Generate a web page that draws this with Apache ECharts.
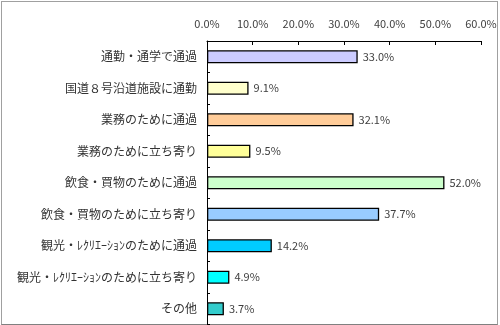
<!DOCTYPE html>
<html>
<head>
<meta charset="utf-8">
<script src="https://cdn.jsdelivr.net/npm/echarts@6/dist/echarts.min.js"></script>
<style>
html,body{margin:0;padding:0;background:#fff;}
#frame{position:absolute;left:1px;top:1px;width:495px;height:322px;border:1px solid #a0a0a0;border-bottom:1px solid #808080;}
#chart{position:absolute;left:0;top:0;width:500px;height:325px;}
</style>
</head>
<body>
<div id="frame"></div>
<div id="chart"></div>
<script>
const categories = [
  '通勤・通学で通過',
  '国道８号沿道施設に通勤',
  '業務のために通過',
  '業務のために立ち寄り',
  '飲食・買物のために通過',
  '飲食・買物のために立ち寄り',
  '観光・ﾚｸﾘｴｰｼｮﾝのために通過',
  '観光・ﾚｸﾘｴｰｼｮﾝのために立ち寄り',
  'その他'
];
const values = [33.0, 9.1, 32.1, 9.5, 52.0, 37.7, 14.2, 4.9, 3.7];
const tickValues = [0, 10, 20, 30, 40, 50, 60];
const colors = ['#CCCCFF','#FFFFCC','#FFCC99','#FFFF99','#CCFFCC','#99CCFF','#00CCFF','#00FFFF','#33CCCC'];

const chart = echarts.init(document.getElementById('chart'));
const font = '"Noto Sans CJK JP", "Noto Sans", sans-serif';
chart.setOption({
  animation: false,
  grid: {left: 207, top: 41, width: 274, height: 283.5, containLabel: false},
  xAxis: {
    type: 'value', position: 'top', min: tickValues[0], max: tickValues[tickValues.length-1], interval: 10,
    axisLine: {show: true, lineStyle: {color: '#000', width: 1}},
    axisTick: {show: true, inside: true, length: 4, lineStyle: {color: '#000'}},
    splitLine: {show: false},
    axisLabel: {formatter: v => v.toFixed(1) + '%', color: '#404040', fontSize: 11, fontFamily: font, margin: 12}
  },
  yAxis: {
    type: 'category', data: categories, inverse: true,
    axisLine: {show: true, lineStyle: {color: '#000', width: 1}},
    axisTick: {show: true, inside: true, length: 3, lineStyle: {color: '#000'}},
    axisLabel: {color: '#333', fontSize: 12, fontFamily: font, margin: 10}
  },
  series: [{
    type: 'bar', barWidth: 13,
    data: values.map((v, i) => ({value: v, itemStyle: {color: colors[i]}})),
    itemStyle: {borderColor: '#000', borderWidth: 1.3},
    label: {show: true, position: 'right', distance: 5, formatter: p => p.value.toFixed(1) + '%', color: '#404040', fontSize: 11, fontFamily: font}
  }]
});
</script>
</body>
</html>
